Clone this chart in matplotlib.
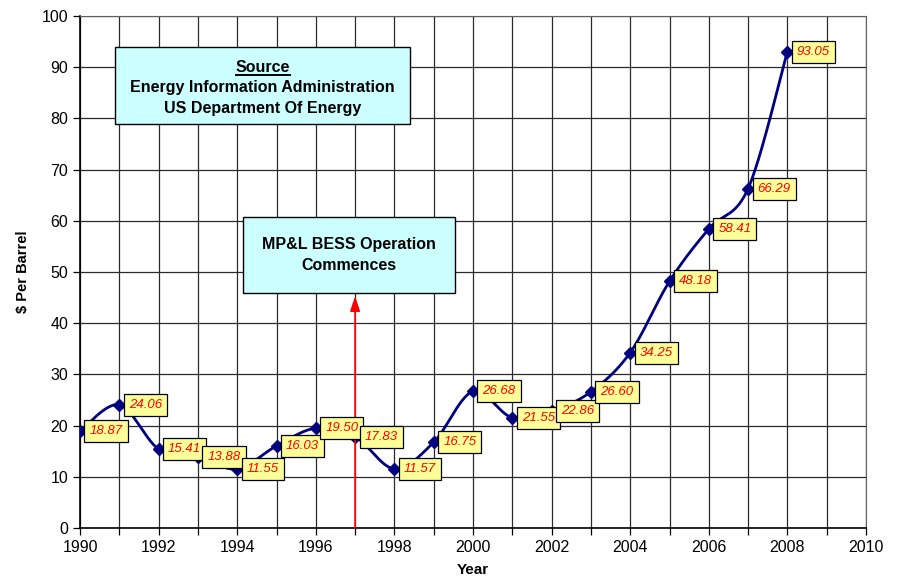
import numpy as np
import matplotlib.pyplot as plt
from matplotlib.lines import Line2D

plt.rcParams['font.family'] = ['Liberation Sans', 'DejaVu Sans']

# Crude oil price, $ per barrel
years = [1990, 1991, 1992, 1993, 1994, 1995, 1996, 1997, 1998, 1999,
         2000, 2001, 2002, 2003, 2004, 2005, 2006, 2007, 2008]
price = [18.87, 24.06, 15.41, 13.88, 11.55, 16.03, 19.50, 17.83, 11.57, 16.75,
         26.68, 21.55, 22.86, 26.60, 34.25, 48.18, 58.41, 66.29, 93.05]

start_year = 1997
source_lines = ['Source', 'Energy Information Administration', 'US Department Of Energy']
event_text = 'MP&L BESS Operation\nCommences'


def smooth_curve(x, y, n=30):
    # Bezier smoothing through every point (spreadsheet style)
    x = np.asarray(x, float)
    y = np.asarray(y, float)
    px = np.concatenate([[x[0]], x, [x[-1]]])
    py = np.concatenate([[y[0]], y, [y[-1]]])
    xs, ys = [], []
    t = np.linspace(0, 1, n)
    for i in range(1, len(px) - 2):
        p0 = np.array([px[i], py[i]])
        p3 = np.array([px[i + 1], py[i + 1]])
        p1 = p0 + (np.array([px[i + 1], py[i + 1]]) - np.array([px[i - 1], py[i - 1]])) / 6
        p2 = p3 - (np.array([px[i + 2], py[i + 2]]) - np.array([px[i], py[i]])) / 6
        b = ((1 - t) ** 3)[:, None] * p0 + (3 * (1 - t) ** 2 * t)[:, None] * p1 \
            + (3 * (1 - t) * t ** 2)[:, None] * p2 + (t ** 3)[:, None] * p3
        xs.extend(b[:, 0])
        ys.extend(b[:, 1])
    return xs, ys


fig = plt.figure(figsize=(9.01, 5.86), dpi=100)
ax = fig.add_axes([80 / 901, 58 / 586, 786 / 901, 512 / 586])

ax.set_xlim(1990, 2010)
ax.set_ylim(0, 100)
ax.set_xticks(np.arange(1990, 2011, 2))
ax.set_xticks(np.arange(1990, 2011, 1), minor=True)
ax.set_yticks(np.arange(0, 101, 10))
ax.grid(True, which='both', axis='x', color='#2a2a2a', lw=0.9)
ax.grid(True, which='major', axis='y', color='#2a2a2a', lw=0.9)
ax.set_axisbelow(True)
ax.tick_params(which='both', direction='out', length=5, width=0.9, labelsize=11.5)
for s in ['top', 'right']:
    ax.spines[s].set_color('#606060')
for s in ['left', 'bottom']:
    ax.spines[s].set_linewidth(1.2)

sx, sy = smooth_curve(years, price)
ax.plot(sx, sy, color='#000080', lw=2, zorder=3)
ax.plot(years, price, ls='none', marker='D', ms=6, color='#000080', zorder=4)

for x, y in zip(years, price):
    ax.annotate('%.2f' % y, (x, y), xytext=(9.5, 0), textcoords='offset pixels',
                ha='left', va='center', fontsize=9.5, style='italic', color='red',
                bbox=dict(boxstyle='square,pad=0.38', fc='#FFFF99', ec='black', lw=0.9),
                zorder=6)

# arrow marking the start of operation
ax.annotate('', xy=(start_year, 45.3), xytext=(start_year, 0),
            arrowprops=dict(arrowstyle='-|>,head_length=0.9,head_width=0.3',
                            color='red', lw=1.2, shrinkA=0, shrinkB=0), zorder=5)

ax.text(1996.85, 53.3, event_text, ha='center', va='center', fontsize=11.5,
        fontweight='bold', linespacing=1.55, zorder=7)
ax.add_patch(plt.Rectangle((1994.15, 45.9), 5.39, 14.8, fc='#CCFFFF', ec='black',
                           lw=1, zorder=6))

ax.add_patch(plt.Rectangle((1990.89, 78.9), 7.5, 15.1, fc='#CCFFFF', ec='black',
                           lw=1, zorder=6))
src = ax.text(1994.65, 90.0, source_lines[0], ha='center', va='center',
              fontsize=11.5, fontweight='bold', zorder=7)
ax.text(1994.65, 86.0, source_lines[1], ha='center', va='center',
        fontsize=11.5, fontweight='bold', zorder=7)
ax.text(1994.65, 82.0, source_lines[2], ha='center', va='center',
        fontsize=11.5, fontweight='bold', zorder=7)

ax.set_xlabel('Year', fontsize=11, fontweight='bold', labelpad=6)
ax.set_ylabel('$ Per Barrel', fontsize=10.5, fontweight='bold', labelpad=8)

# underline the "Source" heading
fig.canvas.draw()
bb = src.get_window_extent()
fig.add_artist(Line2D([bb.x0 / 901, bb.x1 / 901], [(bb.y0 - 0.5) / 586] * 2,
                      color='black', lw=1.4, zorder=8))

fig.savefig('out.png', dpi=100)
